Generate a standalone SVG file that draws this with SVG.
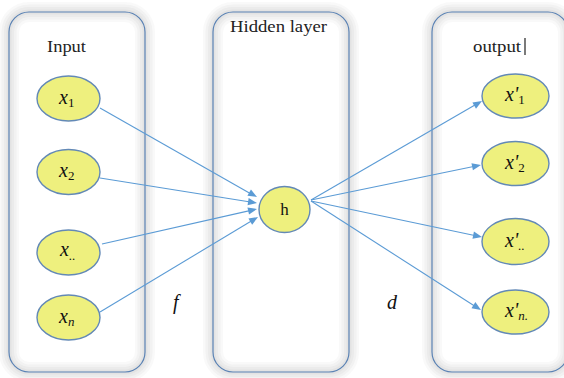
<svg xmlns="http://www.w3.org/2000/svg" width="564" height="378" viewBox="0 0 564 378">
  <defs>
    <!-- arrowhead pointing along +x, tip at the origin -->
    <path id="head" d="M0,0 L-9,-3.6 L-9,3.6 z" fill="#5b9bd5"/>
    <!-- one panel outline with a soft grey halo built from layered strokes -->
    <g id="halo">
      <rect x="0" y="0" width="136" height="360" rx="20" fill="none" stroke="#9a9a9a" stroke-opacity="0.06" stroke-width="20"/>
      <rect x="0" y="0" width="136" height="360" rx="20" fill="none" stroke="#9a9a9a" stroke-opacity="0.07" stroke-width="15"/>
      <rect x="0" y="0" width="136" height="360" rx="20" fill="none" stroke="#9a9a9a" stroke-opacity="0.08" stroke-width="10"/>
      <rect x="0" y="0" width="136" height="360" rx="20" fill="none" stroke="#9a9a9a" stroke-opacity="0.09" stroke-width="5"/>
      <rect x="0" y="0" width="136" height="360" rx="20" fill="none" stroke="#5a82b4" stroke-width="1.2"/>
    </g>
  </defs>

  <rect x="0" y="0" width="564" height="378" fill="#ffffff"/>

  <!-- layer panels -->
  <g id="panel-input">
    <use href="#halo" x="9" y="12"/>
    <text x="47" y="52" font-family="Liberation Serif, DejaVu Serif, serif" font-size="16" fill="#222" textLength="39" lengthAdjust="spacingAndGlyphs">Input</text>
  </g>
  <g id="panel-hidden">
    <use href="#halo" x="213" y="12"/>
    <text x="230" y="32" font-family="Liberation Serif, DejaVu Serif, serif" font-size="16" fill="#222" textLength="97" lengthAdjust="spacingAndGlyphs">Hidden layer</text>
  </g>
  <g id="panel-output">
    <use href="#halo" x="432" y="12"/>
    <text x="473" y="52" font-family="Liberation Serif, DejaVu Serif, serif" font-size="16" fill="#222" textLength="48" lengthAdjust="spacingAndGlyphs">output</text>
    <line x1="525" y1="38" x2="525" y2="55" stroke="#222" stroke-width="1.2"/>
  </g>

  <!-- connectors -->
  <g id="edges">
    <g stroke="#5b9bd5" stroke-width="1.1" fill="none">
      <line x1="100" y1="108" x2="252" y2="194.5"/>
      <line x1="100" y1="178" x2="252" y2="202.2"/>
      <line x1="102" y1="244" x2="252" y2="210.1"/>
      <line x1="100" y1="312" x2="253" y2="220"/>
      <line x1="311" y1="200" x2="477.5" y2="103.6"/>
      <line x1="311" y1="200" x2="476" y2="166"/>
      <line x1="311" y1="201" x2="477" y2="236"/>
      <line x1="311" y1="201" x2="476.5" y2="307.3"/>
    </g>
    <use href="#head" transform="translate(257,197) rotate(29.55)"/>
    <use href="#head" transform="translate(257,203) rotate(9.05)"/>
    <use href="#head" transform="translate(257,209) rotate(-12.72)"/>
    <use href="#head" transform="translate(258,217) rotate(-31.02)"/>
    <use href="#head" transform="translate(482,101) rotate(-30.07)"/>
    <use href="#head" transform="translate(481,165) rotate(-11.63)"/>
    <use href="#head" transform="translate(482,237) rotate(11.89)"/>
    <use href="#head" transform="translate(481,310) rotate(32.67)"/>
  </g>

  <!-- input nodes -->
  <g id="x1">
    <ellipse cx="68.5" cy="98.5" rx="31.5" ry="22.5" fill="#eef07e" stroke="#6389b6" stroke-width="1.4"/>
    <text x="59" y="104" font-family="Liberation Serif, DejaVu Serif, serif" font-style="italic" font-size="20" fill="#111">x<tspan font-style="normal" font-size="13" dy="3">1</tspan></text>
  </g>
  <g id="x2">
    <ellipse cx="68.5" cy="172" rx="31.5" ry="22.5" fill="#eef07e" stroke="#6389b6" stroke-width="1.4"/>
    <text x="59" y="177" font-family="Liberation Serif, DejaVu Serif, serif" font-style="italic" font-size="20" fill="#111">x<tspan font-style="normal" font-size="13" dy="3">2</tspan></text>
  </g>
  <g id="xdots">
    <ellipse cx="68.5" cy="252.5" rx="31.5" ry="22.5" fill="#eef07e" stroke="#6389b6" stroke-width="1.4"/>
    <text x="60" y="256" font-family="Liberation Serif, DejaVu Serif, serif" font-style="italic" font-size="20" fill="#111">x<tspan font-size="13" dy="4">..</tspan></text>
  </g>
  <g id="xn">
    <ellipse cx="68.5" cy="317.5" rx="31.5" ry="22.5" fill="#eef07e" stroke="#6389b6" stroke-width="1.4"/>
    <text x="59" y="323" font-family="Liberation Serif, DejaVu Serif, serif" font-style="italic" font-size="20" fill="#111">x<tspan font-size="13" dy="3">n</tspan></text>
  </g>

  <!-- hidden node -->
  <g id="h">
    <ellipse cx="284.5" cy="209.5" rx="25.5" ry="23" fill="#eef07e" stroke="#6389b6" stroke-width="1.4"/>
    <text x="284.5" y="215" font-family="Liberation Serif, DejaVu Serif, serif" font-size="17" fill="#111" text-anchor="middle">h</text>
  </g>

  <!-- output nodes -->
  <g id="y1">
    <ellipse cx="515.5" cy="96" rx="33.5" ry="22" fill="#eef07e" stroke="#6389b6" stroke-width="1.4"/>
    <text x="505" y="101" font-family="Liberation Serif, DejaVu Serif, serif" font-style="italic" font-size="20" fill="#111">x'<tspan font-style="normal" font-size="13" dy="3">1</tspan></text>
  </g>
  <g id="y2">
    <ellipse cx="515.5" cy="163.5" rx="33.5" ry="22" fill="#eef07e" stroke="#6389b6" stroke-width="1.4"/>
    <text x="505" y="169" font-family="Liberation Serif, DejaVu Serif, serif" font-style="italic" font-size="20" fill="#111">x'<tspan font-style="normal" font-size="13" dy="3">2</tspan></text>
  </g>
  <g id="ydots">
    <ellipse cx="515.5" cy="241.5" rx="33.5" ry="23" fill="#eef07e" stroke="#6389b6" stroke-width="1.4"/>
    <text x="505" y="247" font-family="Liberation Serif, DejaVu Serif, serif" font-style="italic" font-size="20" fill="#111">x'<tspan font-size="13" dy="3">..</tspan></text>
  </g>
  <g id="yn">
    <ellipse cx="515.5" cy="312" rx="33.5" ry="22" fill="#eef07e" stroke="#6389b6" stroke-width="1.4"/>
    <text x="505" y="317" font-family="Liberation Serif, DejaVu Serif, serif" font-style="italic" font-size="20" fill="#111">x'<tspan font-size="13" dy="3">n.</tspan></text>
  </g>

  <!-- mapping labels -->
  <text x="173" y="309" font-family="Liberation Serif, DejaVu Serif, serif" font-style="italic" font-size="20" fill="#111">f</text>
  <text x="387" y="309" font-family="Liberation Serif, DejaVu Serif, serif" font-style="italic" font-size="20" fill="#111">d</text>
</svg>
